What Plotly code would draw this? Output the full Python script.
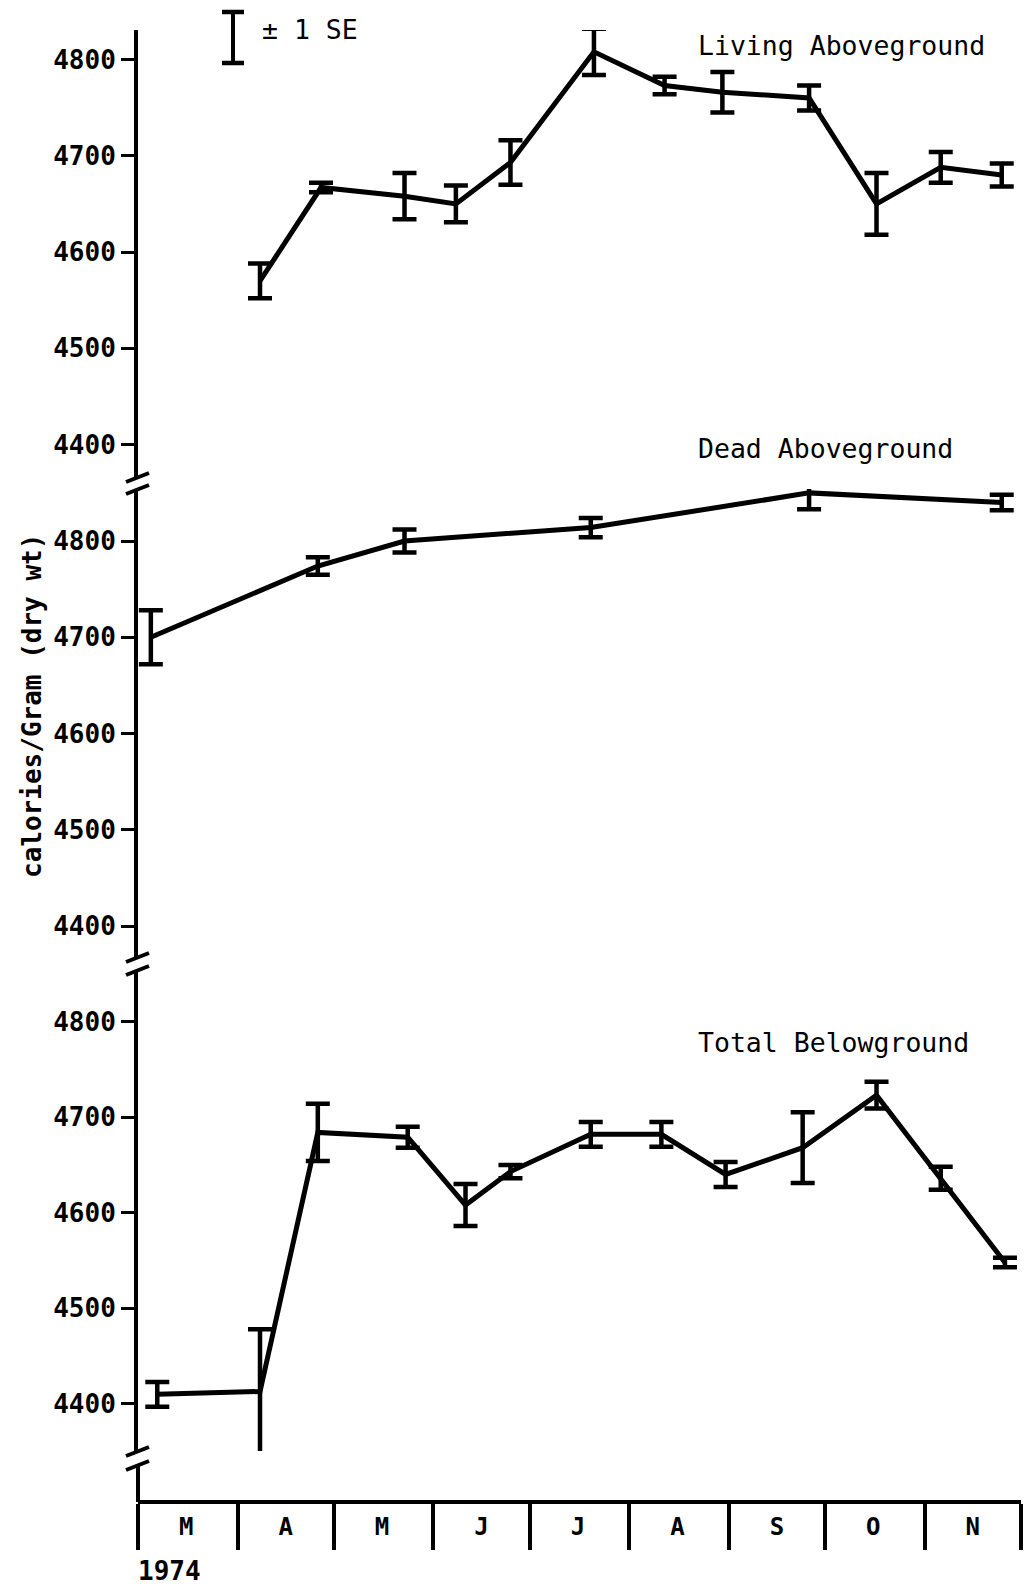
import plotly.graph_objects as go

W, H = 1030, 1587

# ---------------- data ----------------
month_labels = ["M", "A", "M", "J", "J", "A", "S", "O", "N"]
month_starts = ["1974-03-01", "1974-04-01", "1974-05-01", "1974-06-01", "1974-07-01",
                "1974-08-01", "1974-09-01", "1974-10-01", "1974-11-01", "1974-12-01"]
month_mids = ["1974-03-16", "1974-04-16", "1974-05-16", "1974-06-16", "1974-07-16",
              "1974-08-16", "1974-09-16", "1974-10-16", "1974-11-16"]
y_ticks = [4400, 4500, 4600, 4700, 4800]

living_dates = ["1974-04-08", "1974-04-27", "1974-05-23", "1974-06-08", "1974-06-25", "1974-07-21",
                "1974-08-12", "1974-08-30", "1974-09-26", "1974-10-17", "1974-11-06", "1974-11-25"]
living_mean = [4570, 4667, 4658, 4650, 4693, 4808, 4773, 4766, 4760, 4650, 4688, 4680]
living_se = [18, 5, 24, 19, 23, 24, 9, 21, 13, 32, 16, 12]

dead_dates = ["1974-03-05", "1974-04-26", "1974-05-23", "1974-07-20", "1974-09-26", "1974-11-25"]
dead_mean = [4700, 4774, 4800, 4814, 4850, 4840]
dead_se = [28, 9, 12, 10, 17, 8]

below_dates = ["1974-03-07", "1974-04-08", "1974-04-26", "1974-05-24", "1974-06-11", "1974-06-25",
               "1974-07-20", "1974-08-11", "1974-08-31", "1974-09-24", "1974-10-17", "1974-11-06",
               "1974-11-26"]
below_mean = [4410, 4413, 4684, 4679, 4608, 4643, 4682, 4682, 4640, 4668, 4723, 4636, 4548]
below_se = [13, 65, 30, 11, 22, 7, 13, 13, 13, 37, 14, 12, 5]

panel_names = ["Living Aboveground", "Dead Aboveground", "Total Belowground"]
y_title = "calories/Gram (dry wt)"
year_label = "1974"
se_label = "± 1 SE"

# ---------------- layout helpers ----------------
def px(x):
    return x / W

def py(y):
    return 1 - y / H

BLACK = "black"
MONO = "DejaVu Sans Mono, monospace"

# (top_px, bottom_px, pixel of 4800, px per unit)
panels = [(30, 477, 59.5, 0.9625), (489, 957, 541.0, 0.9625), (971, 1451, 1021.5, 0.956)]
label_y = [45, 448, 1042]

x_left, x_right = 138, 1021
xaxis_y = 1502

fig = go.Figure()

series = [(living_dates, living_mean, living_se),
          (dead_dates, dead_mean, dead_se),
          (below_dates, below_mean, below_se)]

for i, (d, m, s) in enumerate(series):
    yref = "y" if i == 0 else f"y{i+1}"
    fig.add_trace(go.Scatter(
        x=d, y=m, mode="lines", xaxis="x", yaxis=yref,
        line=dict(color=BLACK, width=5),
        error_y=dict(type="data", array=s, visible=True, color=BLACK, thickness=4.5, width=12),
        cliponaxis=False, showlegend=False, hoverinfo="skip"))

layout = dict(
    width=W, height=H, margin=dict(l=0, r=0, t=0, b=0),
    paper_bgcolor="white", plot_bgcolor="white", showlegend=False,
    xaxis=dict(domain=[px(x_left), px(x_right)], anchor="free", position=py(xaxis_y),
               type="date", range=[month_starts[0], month_starts[-1]],
               tickmode="array", tickvals=month_starts, ticktext=[""] * len(month_starts),
               ticks="outside", ticklen=46, tickwidth=4, tickcolor=BLACK,
               showline=True, linewidth=4, linecolor=BLACK, showgrid=False, zeroline=False),
    xaxis2=dict(domain=[px(x_left), px(x_right)], anchor="free", position=py(xaxis_y),
                overlaying="x", type="date", range=[month_starts[0], month_starts[-1]],
                tickmode="array", tickvals=month_mids, ticktext=month_labels,
                ticks="outside", ticklen=3, tickcolor="rgba(0,0,0,0)",
                tickfont=dict(family=MONO, size=24, color=BLACK, weight="bold"),
                showline=False, showgrid=False, zeroline=False),
)

for i, (top, bot, p48, ppu) in enumerate(panels):
    key = "yaxis" if i == 0 else f"yaxis{i+1}"
    ymax = 4800 + (p48 - top) / ppu
    ymin = 4800 - (bot - p48) / ppu
    layout[key] = dict(
        domain=[py(bot), py(top)], anchor="x", range=[ymin, ymax],
        tickmode="array", tickvals=y_ticks, ticktext=[str(v) for v in y_ticks],
        ticks="outside", ticklen=13, tickwidth=3, tickcolor=BLACK,
        tickfont=dict(family=MONO, size=26, color=BLACK, weight="bold"),
        showline=True, linewidth=4, linecolor=BLACK, showgrid=False, zeroline=False)

fig.update_layout(**layout)
# dummy trace so xaxis2 renders
fig.add_trace(go.Scatter(x=[month_mids[0]], y=[None], xaxis="x2", yaxis="y3",
                         showlegend=False, hoverinfo="skip"))

shapes = []
# axis break slashes
for yc in [477.5, 489.5, 957.5, 970.5, 1451.5, 1465.5]:
    shapes.append(dict(type="line", xref="paper", yref="paper",
                       x0=px(126), y0=py(yc + 4.5), x1=px(149), y1=py(yc - 4.5),
                       line=dict(color=BLACK, width=4)))
# lower y-axis segment below the bottom break
shapes.append(dict(type="line", xref="paper", yref="paper",
                   x0=px(x_left), y0=py(1465), x1=px(x_left), y1=py(xaxis_y),
                   line=dict(color=BLACK, width=4)))
# "+/- 1 SE" key symbol
shapes.append(dict(type="line", xref="paper", yref="paper",
                   x0=px(233), y0=py(12), x1=px(233), y1=py(63), line=dict(color=BLACK, width=4)))
for yy in (12, 63):
    shapes.append(dict(type="line", xref="paper", yref="paper",
                       x0=px(222), y0=py(yy), x1=px(244), y1=py(yy), line=dict(color=BLACK, width=4.5)))

annotations = []
for name, ly in zip(panel_names, label_y):
    annotations.append(dict(text=name, xref="paper", yref="paper", x=px(696), y=py(ly),
                            xanchor="left", yanchor="middle", showarrow=False,
                            font=dict(family=MONO, size=26.5, color=BLACK)))
annotations.append(dict(text=se_label, xref="paper", yref="paper", x=px(260), y=py(30),
                        xanchor="left", yanchor="middle", showarrow=False,
                        font=dict(family=MONO, size=26.5, color=BLACK)))
annotations.append(dict(text=year_label, xref="paper", yref="paper", x=px(136), y=py(1571),
                        xanchor="left", yanchor="middle", showarrow=False,
                        font=dict(family=MONO, size=26, color=BLACK, weight="bold")))
annotations.append(dict(text=y_title, xref="paper", yref="paper", x=px(32), y=py(706),
                        xanchor="center", yanchor="middle", textangle=-90, showarrow=False,
                        font=dict(family=MONO, size=26, color=BLACK, weight="bold")))

fig.update_layout(shapes=shapes, annotations=annotations)
fig.write_html("out.html")
